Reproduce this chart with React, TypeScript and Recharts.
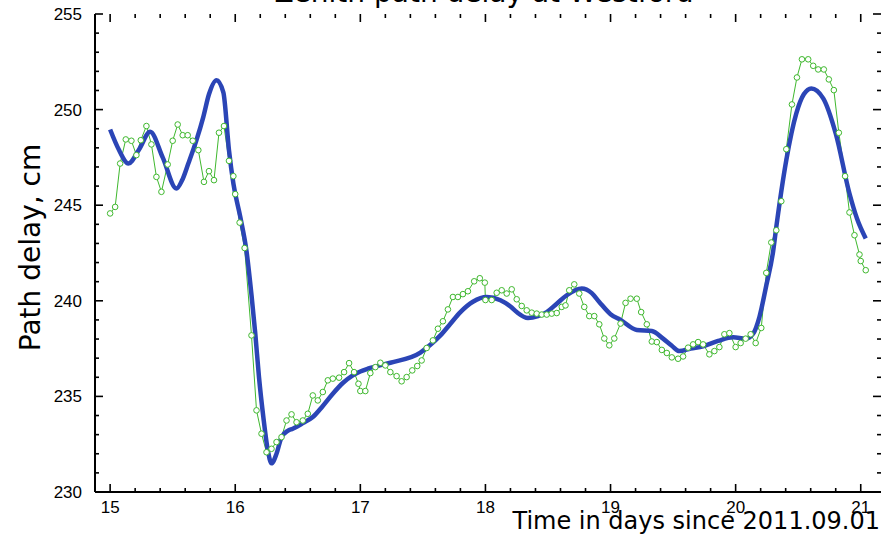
import React from "react";
import { LineChart, Line, XAxis, YAxis } from "recharts";

// Observed (green) path delay samples: time [days], delay [cm]
const obsTime = [
  15.0, 15.04, 15.08, 15.125, 15.17, 15.21, 15.245, 15.29, 15.33, 15.37, 15.41, 15.46, 15.5, 15.54, 15.58,
  15.62, 15.66, 15.705, 15.75, 15.79, 15.83, 15.87, 15.91, 15.95, 15.985, 16.0, 16.035, 16.075, 16.13, 16.17,
  16.21, 16.25, 16.29, 16.33, 16.37, 16.41, 16.45, 16.49, 16.54, 16.58, 16.62, 16.66, 16.7, 16.74, 16.78,
  16.83, 16.87, 16.91, 16.95, 16.985, 17.0, 17.04, 17.08, 17.12, 17.16, 17.2, 17.24, 17.29, 17.33, 17.37,
  17.415, 17.455, 17.49, 17.53, 17.58, 17.62, 17.66, 17.7, 17.74, 17.78, 17.82, 17.86, 17.91, 17.955, 17.995,
  18.0, 18.05, 18.09, 18.13, 18.17, 18.21, 18.25, 18.29, 18.33, 18.37, 18.41, 18.45, 18.49, 18.53, 18.57,
  18.61, 18.64, 18.67, 18.71, 18.75, 18.79, 18.83, 18.87, 18.91, 18.95, 18.99, 19.03, 19.08, 19.12, 19.16,
  19.21, 19.245, 19.29, 19.33, 19.37, 19.41, 19.45, 19.49, 19.54, 19.58, 19.62, 19.66, 19.7, 19.74, 19.79,
  19.83, 19.87, 19.91, 19.95, 20.0, 20.04, 20.08, 20.12, 20.16, 20.205, 20.245, 20.285, 20.325, 20.365, 20.405,
  20.45, 20.49, 20.53, 20.58, 20.62, 20.66, 20.705, 20.745, 20.785, 20.825, 20.875, 20.91, 20.95, 20.99, 21.0,
  21.04,
];
const obsDelay = [
  244.57, 244.91, 247.18, 248.44, 248.37, 247.62, 248.4, 249.14, 248.18, 246.48, 245.7, 247.13, 248.37, 249.22, 248.66,
  248.66, 248.37, 247.88, 246.22, 246.78, 246.31, 248.79, 249.14, 247.32, 246.52, 245.58, 244.09, 242.76, 238.19, 234.27,
  233.05, 232.08, 232.26, 232.61, 232.87, 233.74, 234.06, 233.65, 233.74, 234.09, 235.05, 234.79, 235.23, 235.84, 235.93,
  235.98, 236.27, 236.74, 236.27, 235.66, 235.28, 235.28, 236.22, 236.53, 236.76, 236.62, 236.27, 236.06, 235.79, 236.01,
  236.36, 236.59, 236.88, 237.53, 237.93, 238.54, 238.93, 239.55, 240.2, 240.2, 240.35, 240.5, 241.02, 241.18, 240.95,
  240.04, 240.04, 240.42, 240.55, 240.38, 240.6, 240.08, 239.73, 239.5, 239.38, 239.33, 239.28, 239.28, 239.33, 239.36,
  239.68, 239.76, 240.55, 240.86, 240.38, 239.68, 239.2, 239.2, 238.77, 238.03, 237.67, 238.03, 238.81, 239.89, 240.11,
  240.11, 239.41, 238.77, 237.87, 237.84, 237.43, 237.27, 237.04, 236.97, 237.09, 237.55, 237.72, 237.84, 237.72, 237.2,
  237.37, 237.58, 238.25, 238.31, 237.58, 237.79, 238.02, 238.25, 237.79, 238.58, 241.46, 243.05, 243.69, 245.21, 247.93,
  250.27, 251.68, 252.63, 252.63, 252.29, 252.1, 252.1, 251.58, 251.02, 248.79, 246.52, 244.62, 243.43, 242.42, 242.08,
  241.6,
];

// Smoothed (blue) model curve
const fitTime = [
  15.0, 15.07, 15.146, 15.23, 15.32, 15.42, 15.53, 15.575, 15.625, 15.69, 15.745, 15.79, 15.85, 15.905, 15.95,
  15.985, 16.04, 16.09, 16.13, 16.16, 16.19, 16.225, 16.26, 16.29, 16.33, 16.37, 16.42, 16.46, 16.54, 16.62,
  16.7, 16.78, 16.86, 16.94, 17.0, 17.06, 17.24, 17.48, 17.56, 17.64, 17.72, 17.8, 17.9, 18.01, 18.12,
  18.2, 18.25, 18.34, 18.42, 18.49, 18.57, 18.65, 18.77, 18.85, 18.91, 19.0, 19.08, 19.21, 19.33, 19.42,
  19.49, 19.55, 19.64, 19.74, 19.86, 19.98, 20.08, 20.14, 20.19, 20.245, 20.3, 20.325, 20.405, 20.485, 20.545,
  20.605, 20.7, 20.8, 20.91, 20.97, 21.04,
];
const fitDelay = [
  248.96, 247.9, 247.18, 247.9, 248.84, 247.5, 245.87, 246.3, 247.18, 248.4, 249.62, 250.8, 251.54, 250.9, 247.88,
  246.14, 244.4, 242.6, 240.3, 238.3, 236.0, 233.9, 232.2, 231.5, 232.0, 232.87, 233.2, 233.31, 233.6, 233.92,
  234.5, 235.14, 235.7, 236.1, 236.3, 236.45, 236.76, 237.29, 237.7, 238.19, 238.8, 239.41, 239.95, 240.2, 240.03,
  239.7, 239.41, 239.1, 239.2, 239.41, 239.85, 240.29, 240.64, 240.4, 239.94, 239.3, 239.0, 238.47, 238.42, 238.02,
  237.65, 237.37, 237.5, 237.62, 237.9, 238.09, 238.02, 238.28, 239.15, 240.8, 242.6, 243.86, 247.36, 249.8, 250.8,
  251.11, 250.59, 248.75, 245.61, 244.3, 243.26,
];

const xTicks = [
  15, 15.2, 15.4, 15.6, 15.8, 16, 16.2, 16.4, 16.6, 16.8, 17, 17.2, 17.4, 17.6, 17.8, 18,
  18.2, 18.4, 18.6, 18.8, 19, 19.2, 19.4, 19.6, 19.8, 20, 20.2, 20.4, 20.6, 20.8, 21,
];
const yTicks = [
  230, 231, 232, 233, 234, 235, 236, 237, 238, 239, 240, 241, 242, 243, 244, 245, 246, 247, 248, 249,
  250, 251, 252, 253, 254, 255,
];

const TITLE = "Zenith path delay at Westford";
const Y_LABEL = "Path delay, cm";
const X_LABEL = "Time in days since 2011.09.01";

const obsData = obsTime.map((t, i) => ({ t, v: obsDelay[i] }));
const fitData = fitTime.map((t, i) => ({ t, v: fitDelay[i] }));

const W = 896;
const H = 543;
const LEFT = 95;
const RIGHT = 881;
const TOP = 14;
const BOTTOM = 492;
const MAJOR = 8;
const MINOR = 4;
const GREEN = "#3fb82e";
const BLUE = "#2b45b6";

const isInt = (v: number, step: number) => Math.abs(v / step - Math.round(v / step)) < 1e-6;

const XTick = (props: any) => {
  const { x, payload } = props;
  const v = payload.value as number;
  const major = isInt(v, 1);
  const len = major ? MAJOR : MINOR;
  return (
    <g>
      <line x1={x} x2={x} y1={BOTTOM} y2={BOTTOM - len} stroke="#000" strokeWidth={1.6} />
      <line x1={x} x2={x} y1={TOP} y2={TOP + len} stroke="#000" strokeWidth={1.6} />
      {major && (
        <text x={x} y={513} textAnchor="middle" fontFamily="'Liberation Sans', Arial, sans-serif" fontSize={17} fill="#000">
          {v}
        </text>
      )}
    </g>
  );
};

const YTick = (props: any) => {
  const { y, payload } = props;
  const v = payload.value as number;
  const major = isInt(v, 5);
  const len = major ? MAJOR : MINOR;
  return (
    <g>
      <line x1={LEFT} x2={LEFT + len} y1={y} y2={y} stroke="#000" strokeWidth={1.6} />
      <line x1={RIGHT - len} x2={RIGHT} y1={y} y2={y} stroke="#000" strokeWidth={1.6} />
      {major && (
        <text x={82} y={y + 6} textAnchor="end" fontFamily="'Liberation Sans', Arial, sans-serif" fontSize={17} fill="#000">
          {v}
        </text>
      )}
    </g>
  );
};

export default function App() {
  const axisLine = { stroke: "#000", strokeWidth: 2 };
  return (
    <div style={{ position: "absolute", left: 0, top: 0, width: W, height: H, background: "#fff" }}>
      <LineChart width={W} height={H} margin={{ top: TOP, right: W - RIGHT, left: 0, bottom: 0 }}>
        <XAxis
          xAxisId="b"
          dataKey="t"
          type="number"
          domain={[14.879, 21.162]}
          allowDataOverflow
          ticks={xTicks}
          interval={0}
          height={H - BOTTOM}
          tickLine={false}
          axisLine={axisLine}
          tick={<XTick />}
        />
        <XAxis
          xAxisId="top"
          orientation="top"
          type="number"
          domain={[14.879, 21.162]}
          allowDataOverflow
          height={0}
          tick={false}
          tickLine={false}
          axisLine={axisLine}
        />
        <YAxis
          yAxisId="l"
          type="number"
          domain={[230, 255]}
          allowDataOverflow
          ticks={yTicks}
          interval={0}
          width={LEFT}
          tickLine={false}
          axisLine={axisLine}
          tick={<YTick />}
        />
        <YAxis
          yAxisId="r"
          orientation="right"
          type="number"
          domain={[230, 255]}
          allowDataOverflow
          width={0}
          tick={false}
          tickLine={false}
          axisLine={axisLine}
        />
        <Line
          xAxisId="b"
          yAxisId="l"
          data={obsData}
          dataKey="v"
          type="linear"
          stroke={GREEN}
          strokeWidth={1}
          dot={{ r: 2.8, stroke: GREEN, strokeWidth: 1, fill: "#fff" }}
          isAnimationActive={false}
        />
        <Line
          xAxisId="b"
          yAxisId="l"
          data={fitData}
          dataKey="v"
          type="monotone"
          stroke={BLUE}
          strokeWidth={4.5}
          dot={false}
          isAnimationActive={false}
        />
      </LineChart>
      <svg
        width={W}
        height={H}
        style={{ position: "absolute", left: 0, top: 0, pointerEvents: "none" }}
      >
        <text x={484} y={2} textAnchor="middle" fontFamily="'DejaVu Sans', sans-serif" fontSize={28} fill="#000">
          {TITLE}
        </text>
        <text
          transform="translate(40,247.5) rotate(-90)"
          textAnchor="middle"
          fontFamily="'DejaVu Sans', sans-serif"
          fontSize={28}
          fill="#000"
        >
          {Y_LABEL}
        </text>
        <text x={880} y={529} textAnchor="end" fontFamily="'DejaVu Sans', sans-serif" fontSize={24} fill="#000">
          {X_LABEL}
        </text>
      </svg>
    </div>
  );
}
